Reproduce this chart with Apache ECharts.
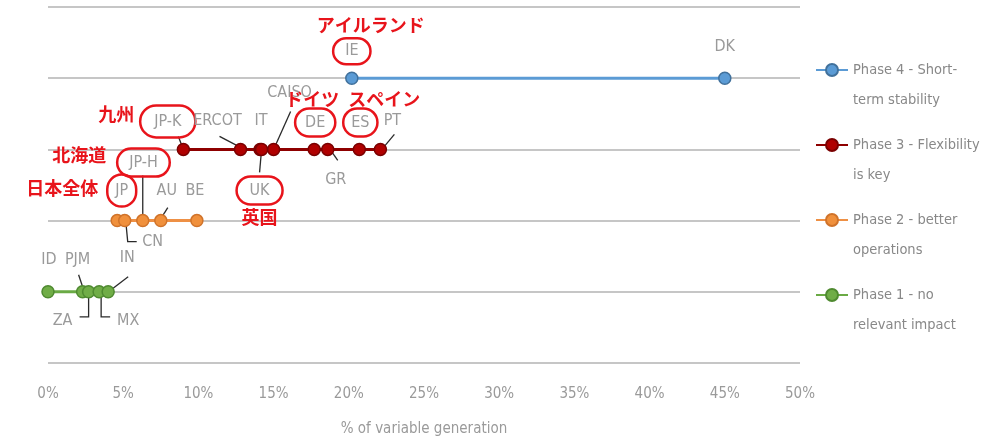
<!DOCTYPE html>
<html><head><meta charset="utf-8">
<script src="https://cdn.jsdelivr.net/npm/echarts@6/dist/echarts.min.js"></script>
<style>html,body{margin:0;padding:0;background:#fff}#c{width:984px;height:437px}</style>
</head><body><div id="c"></div>
<script>
// ---- data ----
const seriesNames = ['Phase 4 - Short-term stability','Phase 3 - Flexibility is key','Phase 2 - better operations','Phase 1 - no relevant impact'];
const legendLines = [['Phase 4 - Short-','term stability'],['Phase 3 - Flexibility','is key'],['Phase 2 - better','operations'],['Phase 1 - no','relevant impact']];
const phaseLevels = [4, 3, 2, 1];
const phase4Names = ['IE', 'DK'];
const phase4Values = [20.2, 45.0];
const phase3Names = ['JP-K', 'ERCOT', 'IT', 'UK', 'CAISO', 'DE', 'GR', 'ES', 'PT'];
const phase3Values = [9.0, 12.8, 14.1, 14.2, 15.0, 17.7, 18.6, 20.7, 22.1];
const phase2Names = ['JP', 'CN', 'JP-H', 'AU', 'BE'];
const phase2Values = [4.6, 5.1, 6.3, 7.5, 9.9];
const phase1Names = ['ID', 'PJM', 'ZA', 'MX', 'IN'];
const phase1Values = [0.0, 2.3, 2.7, 3.4, 4.0];
const xTickMin = 0, xTickMax = 50, xTickStep = 5;
const axisTitle = '% of variable generation';
const jpNotes = { 'JP': '日本全体', 'JP-H': '北海道', 'JP-K': '九州', 'UK': '英国', 'DE': 'ドイツ', 'ES': 'スペイン', 'IE': 'アイルランド' };

// ---- styling / layout (pixel offsets relative to each point) ----
const colors = [
  { line: '#5b9bd5', fill: '#5b9bd5', border: '#41719c' },
  { line: '#8e0000', fill: '#b00000', border: '#7a0000' },
  { line: '#ee9045', fill: '#f0903c', border: '#d0732a' },
  { line: '#6aaa45', fill: '#70ad47', border: '#4f8a30' }
];
const notePos = { 'JP': 'left', 'JP-H': 'left', 'JP-K': 'left', 'UK': 'below', 'DE': 'above', 'ES': 'above', 'IE': 'above' };
// note shift: left notes -> [gap, raise]; stacked notes -> [horizontal shift, extra gap]
const noteShift = { 'JP': [9, 2], 'JP-H': [11, 7], 'JP-K': [6, 7], 'UK': [0, 4], 'DE': [-3, 0], 'ES': [24, 0], 'IE': [19, 4] };
const ringPad = { 'JP': [8, 8], 'JP-H': [6, 12], 'JP-K': [8, 14], 'UK': [6, 13], 'DE': [6, 10], 'ES': [6, 8], 'IE': [5, 12] };
const place = {
  'ID': [1, -32, 'center', 'middle'], 'PJM': [-5, -32, 'center', 'middle'], 'ZA': [-26, 29, 'center', 'middle'],
  'MX': [29, 29, 'center', 'middle'], 'IN': [19, -34, 'center', 'middle'],
  'JP': [19, -30, 'right', 'middle'], 'CN': [28, 21, 'center', 'middle'], 'JP-H': [27, -58, 'right', 'middle'],
  'AU': [6, -30, 'center', 'middle'], 'BE': [-2, -30, 'center', 'middle'],
  'JP-K': [12, -28, 'right', 'middle'], 'ERCOT': [-23, -29, 'center', 'middle'], 'IT': [1, -29, 'center', 'middle'],
  'UK': [-2, 27, 'center', 'top'], 'CAISO': [16, -57, 'center', 'middle'], 'DE': [1, -13, 'center', 'bottom'],
  'GR': [8, 30, 'center', 'middle'], 'ES': [1, -13, 'center', 'bottom'], 'PT': [12, -29, 'center', 'middle'],
  'IE': [0, -14, 'center', 'bottom'], 'DK': [0, -31, 'center', 'middle']
};
const leaderPaths = {
  'PJM': [[-4, -17], [0, -5]],
  'ZA': [[0, 0], [0, 25], [-9, 25]],
  'MX': [[2, 0], [2, 25], [11, 25]],
  'IN': [[3, -2], [20, -15]],
  'CN': [[1, 0], [3, 21], [12, 21]],
  'JP-H': [[0, -45], [0, 0]],
  'AU': [[0, -2], [7, -13]],
  'JP-K': [[-5, -13], [0, 0]],
  'ERCOT': [[-21, -13], [0, -2]],
  'UK': [[0, 0], [-2, 23]],
  'CAISO': [[0, 0], [17, -38]],
  'GR': [[3, 1], [10, 11]],
  'PT': [[4, -3], [14, -15]]
};
const FONT = "'Liberation Sans Narrow', 'Arial Narrow', 'DejaVu Sans Condensed', sans-serif";
const GRAY = '#9a9a9a';
const RED = '#e8141b';

function labelFor(name) {
  const note = jpNotes[name];
  if (!note) return { formatter: () => name };
  const p = notePos[name], s = noteShift[name];
  let jpPad;
  if (p === 'left') jpPad = [0, s[0], 2 * s[1], 0];
  else if (p === 'above') jpPad = [0, s[0] < 0 ? -2 * s[0] : 0, s[1], s[0] > 0 ? 2 * s[0] : 0];
  else jpPad = [s[1], s[0] < 0 ? -2 * s[0] : 0, 0, s[0] > 0 ? 2 * s[0] : 0];
  const rich = {
    o: { color: GRAY, fontSize: 16, fontFamily: FONT, borderColor: RED, borderWidth: 2.5, borderRadius: 20, padding: ringPad[name] },
    jp: { color: RED, fontSize: 18, fontWeight: 'bold', fontFamily: "'Noto Sans CJK JP', sans-serif", padding: jpPad }
  };
  let f;
  if (p === 'left') f = '{jp|' + note + '}{o|' + name + '}';
  else if (p === 'above') f = '{jp|' + note + '}\n{o|' + name + '}';
  else f = '{o|' + name + '}\n{jp|' + note + '}';
  return { formatter: () => f, rich: rich };
}

function makeSeries(idx, names, values) {
  const c = colors[idx];
  return {
    name: seriesNames[idx], type: 'line', z: 3,
    symbol: 'circle', symbolSize: 12,
    lineStyle: { color: c.line, width: 3 },
    itemStyle: { color: c.fill, borderColor: c.border, borderWidth: 1.5 },
    label: { show: true, color: GRAY, fontSize: 16, fontFamily: FONT },
    emphasis: { disabled: true },
    data: names.map((n, i) => {
      const pl = place[n];
      return {
        name: n, value: [values[i], phaseLevels[idx]],
        label: Object.assign({ show: true, position: 'inside', offset: [pl[0], pl[1]], align: pl[2], verticalAlign: pl[3] }, labelFor(n))
      };
    })
  };
}

// leader lines: anchored on each point through the axes
const leaderData = [];
[[phase4Names, phase4Values, 0], [phase3Names, phase3Values, 1], [phase2Names, phase2Values, 2], [phase1Names, phase1Values, 3]].forEach(([ns, vs, k]) => {
  ns.forEach((n, i) => { if (leaderPaths[n]) leaderData.push({ name: n, value: [vs[i], phaseLevels[k]] }); });
});

const chart = echarts.init(document.getElementById('c'), null, { renderer: 'canvas' });
chart.setOption({
  animation: false,
  backgroundColor: '#fff',
  grid: { left: 48, right: 184, top: 7, bottom: 74, containLabel: false, outerBoundsMode: 'none' },
  xAxis: {
    type: 'value', min: xTickMin, max: xTickMax, interval: xTickStep,
    axisLine: { show: false }, axisTick: { show: false }, splitLine: { show: false },
    axisLabel: { formatter: '{value}%', color: GRAY, fontSize: 15, fontFamily: FONT, margin: 24 },
    name: axisTitle, nameLocation: 'middle', nameGap: 59,
    nameTextStyle: { color: GRAY, fontSize: 15, fontFamily: FONT }
  },
  yAxis: {
    type: 'value', min: 0, max: 5, interval: 1,
    axisLine: { show: false }, axisTick: { show: false }, axisLabel: { show: false },
    splitLine: { show: true, lineStyle: { color: '#c6c6c6', width: 2 } }
  },
  legend: {
    orient: 'vertical', left: 815, top: 25, itemGap: -15, padding: 0,
    itemWidth: 32, itemHeight: 15,
    data: seriesNames,
    formatter: (name) => { const l = legendLines[seriesNames.indexOf(name)]; return '\n' + l[0] + '\n' + l[1]; },
    textStyle: { color: '#888', fontSize: 14.5, fontFamily: FONT, lineHeight: 30 },
    selectedMode: false
  },
  series: [
    {
      type: 'custom', z: 2, silent: true,
      data: leaderData,
      renderItem: (params, api) => {
        const p = api.coord([api.value(0), api.value(1)]);
        const name = leaderData[params.dataIndex].name;
        const pts = leaderPaths[name].map(o => [p[0] + o[0], p[1] + o[1]]);
        return { type: 'polyline', shape: { points: pts }, style: { stroke: '#2a2a2a', lineWidth: 1.3, fill: null } };
      }
    },
    makeSeries(0, phase4Names, phase4Values),
    makeSeries(1, phase3Names, phase3Values),
    makeSeries(2, phase2Names, phase2Values),
    makeSeries(3, phase1Names, phase1Values)
  ]
});
</script></body></html>
